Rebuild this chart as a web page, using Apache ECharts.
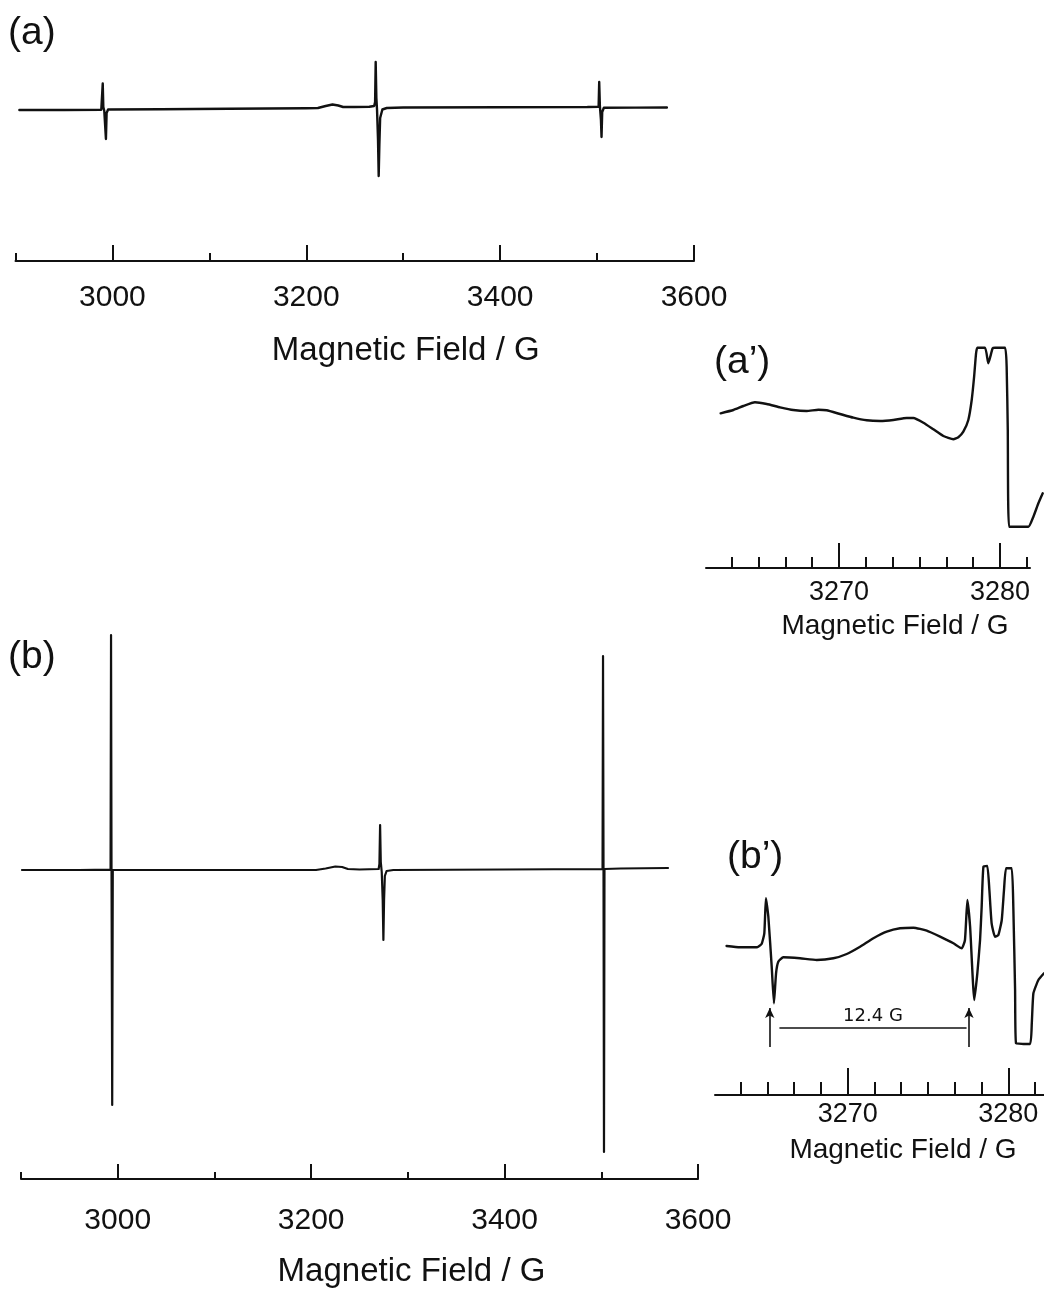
<!DOCTYPE html>
<html>
<head>
<meta charset="utf-8">
<script src="https://cdn.jsdelivr.net/npm/echarts@6/dist/echarts.min.js"></script>
<style>
  html, body { margin: 0; padding: 0; background: #ffffff; }
  #chart { width: 1044px; height: 1289px; }
</style>
</head>
<body>
<div id="chart"></div>
<script>
// EPR spectra: full sweeps (a), (b) and expanded central region (a'), (b').
// Each point is [magnetic field / G, signal (arbitrary units)].

const specA = [
  [2904, 0], [2950, 0], [2988.5, 0.3], [2989.6, 2], [2990.0, 26.5], [2990.6, 3],
  [2991.6, -1], [2993.3, -29], [2994.0, -3], [2995.5, 0.5], [3050, 0.8], [3120, 1.2],
  [3200, 1.8], [3212, 2], [3220, 4], [3227, 5.5], [3233, 4.5], [3238, 3], [3250, 3],
  [3265, 3.3], [3270, 4], [3271, 8], [3271.6, 48], [3272.3, 12], [3273.0, 0],
  [3274.0, -30], [3274.7, -66], [3275.4, -35], [3276.2, -8], [3278.5, 0.5], [3283, 2],
  [3300, 2.5], [3400, 2.8], [3490, 3], [3501.6, 3.3], [3502.2, 28], [3502.9, 4],
  [3504.0, -10], [3504.6, -27], [3505.3, -2], [3507, 2.3], [3540, 2.4], [3572, 2.5]
];

const specB = [
  [2901, 0], [2960, 0], [2992.6, 0.3], [2993.1, 235], [2993.6, 0], [2994.3, -235],
  [2994.9, 0], [3050, 0], [3150, 0], [3205, 0], [3215, 1.5], [3225, 3.5], [3232, 3],
  [3238, 1], [3250, 0.5], [3269.8, 1], [3270.6, 6], [3271.3, 45], [3272.0, 8],
  [3273.0, -2], [3274.0, -30], [3274.7, -70], [3275.4, -30], [3276.2, -6], [3278, -1],
  [3285, 0], [3400, 0.5], [3501.3, 1], [3501.8, 214], [3502.3, 1], [3502.8, -282],
  [3503.3, 1], [3520, 1.5], [3569, 2]
];

const specAz = [
  [3262.65, 6.7], [3263.44, 10], [3264.06, 14], [3264.78, 17.7], [3265.51, 16],
  [3266.34, 12.7], [3267.16, 10], [3267.99, 9], [3268.72, 10.3], [3269.23, 9.7],
  [3270.06, 6], [3270.89, 2.3], [3271.72, -0.3], [3272.55, -1], [3273.37, 0],
  [3274.20, 2], [3274.62, 2], [3275.24, -2.7], [3275.86, -9.3], [3276.48, -16],
  [3277.10, -19.3], [3277.41, -17.3], [3277.72, -11.7], [3278.03, 0], [3278.24, 20],
  [3278.39, 43.3], [3278.51, 66.7], [3278.59, 72.3], [3279.07, 72.3], [3279.27, 56.7],
  [3279.54, 71.7], [3279.69, 72.3], [3280.31, 72.3], [3280.41, 53.3], [3280.48, -10],
  [3280.56, -106.7], [3281.76, -106.7], [3282.07, -96.7], [3282.38, -83.3], [3282.65, -73.3]
];

const specBz = [
  [3262.46, 1], [3263.29, -0.3], [3264.33, -0.3], [3264.64, 3], [3264.81, 13.7],
  [3264.91, 48.7], [3265.06, 30.3], [3265.27, -19.7], [3265.41, -56.3], [3265.54, -26.3],
  [3265.68, -14.7], [3265.99, -10.3], [3267.03, -11.3], [3268.07, -13], [3269.11, -11.3],
  [3269.94, -7], [3270.77, 0.3], [3271.60, 8.7], [3272.43, 15.3], [3273.26, 18.7],
  [3274.09, 19.3], [3274.92, 16.3], [3275.75, 10.3], [3276.58, 3.7], [3277.10, -1.3],
  [3277.30, 7], [3277.45, 47], [3277.62, 20.3], [3277.88, -53], [3278.07, -26.3],
  [3278.24, 7], [3278.34, 40.3], [3278.45, 80.3], [3278.69, 81], [3278.82, 57],
  [3278.96, 23.7], [3279.17, 10.3], [3279.38, 12], [3279.59, 27], [3279.73, 57],
  [3279.86, 78.7], [3280.21, 78.7], [3280.31, 40.3], [3280.42, -43], [3280.48, -96.3],
  [3281.35, -97], [3281.46, -76.3], [3281.56, -46.3], [3281.87, -33], [3282.22, -26.3]
];

// Tick values
const wideMajorTicks = [3000, 3200, 3400, 3600];
const wideMinorTicks = [2900, 3100, 3300, 3500];
const zoomMajorTicks = [3270, 3280];
const zoomMinorTicks = [3263.333, 3265, 3266.667, 3268.333, 3270, 3271.667,
                        3273.333, 3275, 3276.667, 3278.333, 3280, 3281.667];

// Splitting marked in (b')
const splitting = 12.4;          // G
const splitStart = 3265.15;      // G, first arrow
const splitEnd = splitStart + splitting;
const splitArrowLow = -100;
const splitArrowHigh = -61;
const splitBarLevel = -81;

const panelLabels = ['(a)', '(b)', '(a\u2019)', '(b\u2019)'];
const axisTitle = 'Magnetic Field / G';

const FONT = '"Liberation Sans", Arial, Helvetica, sans-serif';
const INK = '#111111';

// Layout of each panel; the trace may run a little past the right end of its axis.
const panels = [
  { grid: { left: 15.5, top: 40, width: 678.5, height: 221 }, x: [2900, 3600], y: [-151, 70],
    data: specA, major: wideMajorTicks, minor: wideMinorTicks, majorLen: 16, minorLen: 8,
    labelSize: 30, labelMargin: 22, nameSize: 33, nameGap: 73, nameShift: 102, lineWidth: 2.4,
    label: panelLabels[0], labelPos: { left: 8, top: 14 } },
  { grid: { left: 21, top: 630, width: 677, height: 553 }, x: [2900, 3600], y: [-313, 240],
    data: specB, major: wideMajorTicks, minor: wideMinorTicks, majorLen: 15, minorLen: 7,
    labelSize: 30, labelMargin: 27, nameSize: 33, nameGap: 76, nameShift: 104, lineWidth: 2.2,
    label: panelLabels[1], labelPos: { left: 8, top: 638 } },
  { grid: { left: 706, top: 340, width: 324, height: 228 }, x: [3261.74, 3281.86], y: [-148, 80],
    data: specAz, major: zoomMajorTicks, minor: zoomMinorTicks, majorLen: 25, minorLen: 11,
    labelSize: 27, labelMargin: 11, nameSize: 28, nameGap: 44, nameShift: 54, lineWidth: 2.4,
    label: panelLabels[2], labelPos: { left: 714, top: 343 } },
  { grid: { left: 715, top: 860, width: 329, height: 235 }, x: [3261.74, 3282.22], y: [-148, 87],
    data: specBz, major: zoomMajorTicks, minor: zoomMinorTicks, majorLen: 27, minorLen: 13,
    labelSize: 27, labelMargin: 6, nameSize: 28, nameGap: 41, nameShift: 47, lineWidth: 2.4,
    label: panelLabels[3], labelPos: { left: 727, top: 838 } }
];

const grid = [], xAxis = [], yAxis = [], series = [], title = [];
const tickAxisCount = panels.length * 2;

panels.forEach((p, i) => {
  grid.push(Object.assign({ containLabel: false }, p.grid));
  // Axis carrying the line, the long ticks and the labels
  xAxis.push({
    type: 'value', gridIndex: i, min: p.x[0], max: p.x[1], position: 'bottom',
    splitLine: { show: false },
    axisLine: { show: true, onZero: false, lineStyle: { color: INK, width: 2 } },
    axisTick: { show: true, inside: true, length: p.majorLen, customValues: p.major,
                lineStyle: { color: INK, width: 2 } },
    axisLabel: { show: true, customValues: p.major, margin: p.labelMargin,
                 formatter: v => String(Math.round(v)),
                 fontFamily: FONT, fontSize: p.labelSize, color: INK },
    name: axisTitle, nameLocation: 'middle', nameGap: p.nameGap,
    nameTextStyle: { fontFamily: FONT, fontSize: p.nameSize, color: INK,
                     padding: [0, 0, 0, p.nameShift] }
  });
  // Axis carrying only the short ticks
  xAxis.push({
    type: 'value', gridIndex: i, min: p.x[0], max: p.x[1], position: 'bottom',
    splitLine: { show: false },
    axisLine: { show: false, onZero: false },
    axisTick: { show: true, inside: true, length: p.minorLen, customValues: p.minor,
                lineStyle: { color: INK, width: 2 } },
    axisLabel: { show: false }
  });
  title.push({ text: p.label, left: p.labelPos.left, top: p.labelPos.top, padding: 0,
               textStyle: { fontFamily: FONT, fontSize: 39, fontWeight: 'normal', color: INK } });
});

// Trace grids: same field scale as the axis grid, widened to the last data point.
panels.forEach((p, i) => {
  const last = p.data[p.data.length - 1][0];
  const xMax = Math.max(p.x[1], last);
  const pxPerG = p.grid.width / (p.x[1] - p.x[0]);
  grid.push({ left: p.grid.left, top: p.grid.top, height: p.grid.height,
              width: (xMax - p.x[0]) * pxPerG, containLabel: false });
  const gi = panels.length + i;
  xAxis.push({ type: 'value', gridIndex: gi, min: p.x[0], max: xMax, show: false,
               splitLine: { show: false } });
  yAxis.push({ type: 'value', gridIndex: gi, min: p.y[0], max: p.y[1], show: false,
               splitLine: { show: false } });
  series.push({
    type: 'line', xAxisIndex: tickAxisCount + i, yAxisIndex: i, data: p.data,
    showSymbol: false, symbol: 'none', clip: false,
    smooth: i >= 2 ? 0.15 : false,
    lineStyle: { color: INK, width: p.lineWidth, join: 'round', cap: 'round' }
  });
});
// y axes for the axis grids (kept so every grid has a full cartesian system)
panels.forEach((p, i) => {
  yAxis.push({ type: 'value', gridIndex: i, min: p.y[0], max: p.y[1], show: false,
               splitLine: { show: false } });
});

// Arrows and bar marking the splitting in (b')
series[3].markLine = {
  silent: true, animation: false,
  symbol: ['none', 'arrow'], symbolSize: [7, 10],
  lineStyle: { color: INK, width: 1.6, type: 'solid' },
  label: { show: false },
  data: [
    [{ coord: [splitStart, splitArrowLow] }, { coord: [splitStart, splitArrowHigh] }],
    [{ coord: [splitEnd, splitArrowLow] }, { coord: [splitEnd, splitArrowHigh] }],
    [{ coord: [splitStart + 0.6, splitBarLevel], symbol: 'none' },
     { coord: [splitEnd - 0.15, splitBarLevel], symbol: 'none',
       label: { show: true, position: 'insideMiddleTop', distance: 3,
                formatter: splitting.toFixed(1) + ' G',
                fontFamily: '"DejaVu Sans", sans-serif', fontSize: 18, color: INK } }]
  ]
};

const chart = echarts.init(document.getElementById('chart'), null, { renderer: 'canvas' });
chart.setOption({ animation: false, backgroundColor: '#ffffff', title, grid, xAxis, yAxis, series });
</script>
</body>
</html>
